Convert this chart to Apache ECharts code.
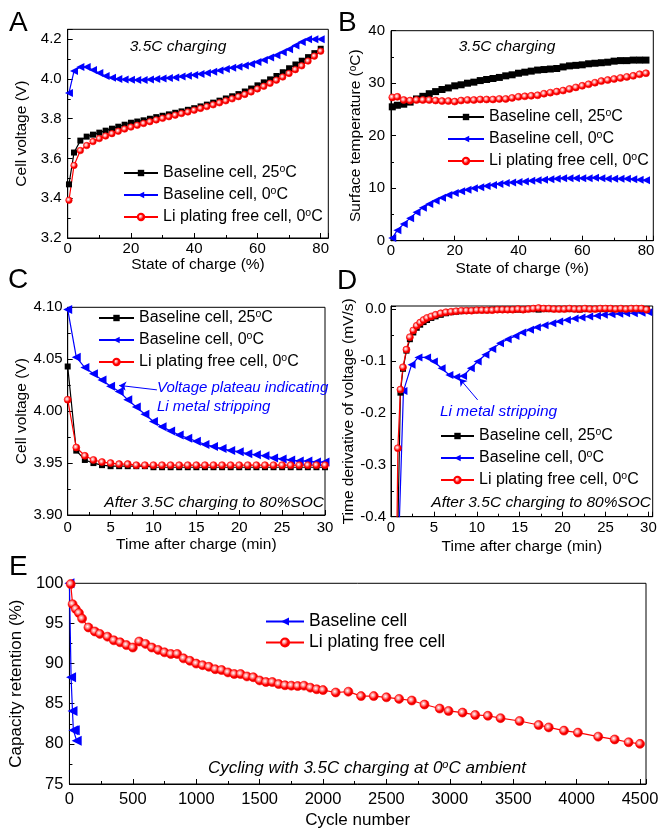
<!DOCTYPE html>
<html>
<head>
<meta charset="utf-8">
<script src="https://cdn.jsdelivr.net/npm/echarts@6/dist/echarts.min.js"></script>
<style>
  html, body { margin: 0; padding: 0; background: #fff; }
  #chart { width: 663px; height: 832px; }
</style>
</head>
<body>
<div id="chart"></div>
<script>
// A + B: charging at 3.5C, x = state of charge (%)
var soc = [0.4, 2, 4, 6, 8, 10, 12, 14, 16, 18, 20, 22, 24, 26, 28, 30, 32, 34, 36, 38, 40,
  42, 44, 46, 48, 50, 52, 54, 56, 58, 60, 62, 64, 66, 68, 70, 72, 74, 76, 78, 80];
var voltBase25 = [3.47, 3.63, 3.69, 3.71, 3.72, 3.73, 3.74, 3.75, 3.76, 3.77, 3.78, 3.786, 3.792, 3.80, 3.808,
  3.815, 3.822, 3.83, 3.837, 3.845, 3.853, 3.862, 3.871, 3.881, 3.891, 3.902, 3.913, 3.924, 3.937, 3.952,
  3.968, 3.983, 3.998, 4.015, 4.034, 4.054, 4.073, 4.092, 4.11, 4.13, 4.152];
var voltBase0 = [3.93, 4.04, 4.06, 4.06, 4.045, 4.03, 4.015, 4.006, 4.0, 3.998, 3.996, 3.995, 3.995, 3.997, 4.0,
  4.002, 4.005, 4.008, 4.012, 4.016, 4.02, 4.025, 4.03, 4.036, 4.043, 4.05, 4.056, 4.062, 4.068, 4.076,
  4.085, 4.095, 4.108, 4.12, 4.135, 4.15, 4.168, 4.186, 4.2, 4.2, 4.2];
var voltFree0 = [3.39, 3.565, 3.64, 3.665, 3.685, 3.70, 3.713, 3.725, 3.737, 3.748, 3.758, 3.767, 3.776, 3.785,
  3.794, 3.802, 3.81, 3.818, 3.826, 3.834, 3.843, 3.852, 3.861, 3.87, 3.88, 3.89, 3.90, 3.911, 3.922, 3.935,
  3.95, 3.963, 3.978, 3.994, 4.01, 4.028, 4.047, 4.066, 4.09, 4.115, 4.14];
var tempBase25 = [25.5, 25.8, 26.0, 26.4, 27.0, 27.5, 28.0, 28.4, 28.8, 29.1, 29.5, 29.7, 30.0, 30.2, 30.5,
  30.7, 30.9, 31.1, 31.4, 31.6, 31.9, 32.1, 32.3, 32.5, 32.6, 32.7, 32.8, 33.1, 33.3, 33.4,
  33.5, 33.7, 33.8, 33.9, 34.0, 34.2, 34.3, 34.3, 34.4, 34.4, 34.4];
var tempBase0 = [0.5, 2.0, 3.2, 4.3, 5.4, 6.3, 7.0, 7.6, 8.2, 8.7, 9.1, 9.4, 9.7, 10.0, 10.2,
  10.4, 10.6, 10.8, 11.0, 11.1, 11.2, 11.3, 11.4, 11.5, 11.6, 11.7, 11.8, 11.9, 11.9, 11.9,
  11.9, 11.9, 12.0, 11.9, 11.8, 11.8, 11.8, 11.8, 11.7, 11.6, 11.5];
var tempFree0 = [27.3, 27.4, 26.8, 26.7, 26.8, 26.8, 26.8, 26.7, 26.6, 26.6, 26.5, 26.7, 26.8, 26.8, 26.9,
  26.9, 26.9, 27.0, 27.0, 27.2, 27.4, 27.5, 27.6, 27.7, 28.0, 28.2, 28.4, 28.6, 28.9, 29.2,
  29.5, 29.8, 30.1, 30.4, 30.6, 30.8, 31.0, 31.2, 31.4, 31.7, 31.9];

// C: relaxation after charge, x = minutes
var timeC = [0, 1, 2, 3, 4, 5, 6, 7, 8, 9, 10, 11, 12, 13, 14, 15, 16, 17, 18, 19, 20,
  21, 22, 23, 24, 25, 26, 27, 28, 29, 30];
var relaxBase25 = [4.043, 3.962, 3.953, 3.950, 3.948, 3.947, 3.947, 3.947, 3.947, 3.947, 3.946, 3.946, 3.946,
  3.946, 3.946, 3.946, 3.946, 3.946, 3.946, 3.946, 3.946, 3.946, 3.946, 3.946, 3.946, 3.946, 3.946, 3.946,
  3.946, 3.946, 3.946];
var relaxBase0 = [4.098, 4.052, 4.042, 4.036, 4.030, 4.024, 4.019, 4.011, 4.004, 3.997, 3.990, 3.985, 3.981,
  3.977, 3.974, 3.971, 3.968, 3.966, 3.964, 3.962, 3.961, 3.959, 3.958, 3.957, 3.955, 3.954, 3.953, 3.952,
  3.952, 3.951, 3.951];
var relaxFree0 = [4.011, 3.965, 3.957, 3.953, 3.951, 3.950, 3.949, 3.949, 3.948, 3.948, 3.948, 3.948, 3.948,
  3.948, 3.948, 3.948, 3.948, 3.948, 3.948, 3.948, 3.948, 3.948, 3.948, 3.948, 3.948, 3.948, 3.948, 3.948,
  3.948, 3.948, 3.948];

// D: dV/dt after charge
var timeD = [0.6, 0.8, 1.1, 1.4, 1.8, 2.2, 2.6, 3.0, 3.4, 3.8, 4.2, 4.7, 5.2, 5.8, 6.4, 7.0, 7.6, 8.2, 8.8, 9.4,
  10.0, 10.6, 11.2, 11.8, 12.4, 13.0, 13.6, 14.2, 14.8, 15.4, 16.0, 16.6, 17.2, 17.8, 18.4, 19.0, 19.6,
  20.2, 20.8, 21.4, 22.0, 22.6, 23.2, 23.8, 24.4, 25.0, 25.6, 26.2, 26.8, 27.4, 28.0, 28.6, 29.2, 29.8];
var dvdtBase25 = [-0.9, -0.42, -0.161, -0.115, -0.080, -0.058, -0.045, -0.036, -0.030, -0.025, -0.021, -0.017,
  -0.014, -0.011, -0.008, -0.006, -0.005, -0.004, -0.003, -0.003,
  -0.002, -0.002, -0.002, -0.001, -0.001, -0.001, -0.001, -0.001, -0.001, -0.001, 0, 0, -0.001, 0, 0, 0, 0,
  0, 0, 0, -0.001, 0, 0, 0, 0, 0, 0, 0, 0, 0, 0, 0, 0, 0];
var dvdtFree0 = [-0.55, -0.268, -0.155, -0.112, -0.078, -0.054, -0.041, -0.032, -0.026, -0.021, -0.017, -0.014,
  -0.011, -0.008, -0.006, -0.005, -0.004, -0.003, -0.003, -0.003,
  -0.002, -0.002, -0.002, -0.002, -0.001, -0.001, -0.001, -0.001, 0, -0.001, 0, 0.001, 0.002, 0.001, 0.001,
  0, 0, 0, 0.001, 0, 0, 0.001, 0, 0, 0.001, 0.001, 0.001, 0, 0.001, 0, 0.001, 0.001, 0.001, -0.001];
var timeD0 = [0.8, 1.45, 2.4, 3.2, 4.2, 5.0, 5.9, 6.8, 7.6, 8.4, 9.3, 10.1, 11.0, 11.8, 12.7, 13.6, 14.5, 15.3,
  16.2, 17.0, 17.9, 18.8, 19.6, 20.5, 21.4, 22.2, 23.1, 24.0, 24.8, 25.7, 26.6, 27.4, 28.3, 29.2, 30.0];
var dvdtBase0 = [-0.5, -0.158, -0.107, -0.093, -0.093, -0.101, -0.114, -0.127, -0.131, -0.129, -0.114, -0.101,
  -0.088, -0.077, -0.066, -0.058, -0.052, -0.045, -0.040, -0.035, -0.031, -0.027, -0.024, -0.021, -0.018,
  -0.016, -0.014, -0.013, -0.011, -0.010, -0.009, -0.008, -0.008, -0.007, -0.006];

// E: cycling at 0C ambient
var cycleBase = [0, 13, 24, 31, 42, 57];
var retentionBase = [100, 88.3, 84.1, 81.7, 81.7, 80.4];
var cycleFree = [10, 25, 50, 75, 100, 150, 200, 240, 300, 350, 400, 450, 500, 550, 600, 650, 700, 750, 800, 850,
  900, 950, 1000, 1050, 1100, 1150, 1200, 1250, 1300, 1350, 1400, 1450, 1500, 1550, 1600, 1650, 1700, 1750,
  1800, 1850, 1900, 1950, 2000, 2100, 2200, 2300, 2400, 2500, 2600, 2700, 2800, 2920, 2990, 3100, 3200, 3300,
  3400, 3550, 3700, 3780, 3900, 4010, 4170, 4300, 4410, 4500];
var retentionFree = [99.9, 97.4, 96.8, 96.3, 95.6, 94.5, 94.0, 93.7, 93.35, 92.9, 92.65, 92.3, 92.0, 92.75, 92.45,
  92.0, 91.7, 91.4, 91.2, 91.2, 90.65, 90.35, 90.0, 89.8, 89.6, 89.3, 89.2, 88.9, 88.7, 88.7, 88.4, 88.3, 87.9,
  87.7, 87.7, 87.45, 87.3, 87.25, 87.2, 87.25, 87.0, 86.8, 86.7, 86.4, 86.5, 85.95, 85.95, 85.8, 85.6, 85.4,
  84.9, 84.4, 84.1, 83.9, 83.6, 83.5, 83.2, 82.85, 82.35, 82.05, 81.65, 81.4, 80.9, 80.55, 80.2, 80.0];

var NAME_B25 = 'Baseline cell, 25°C';
var NAME_B0 = 'Baseline cell, 0°C';
var NAME_F0 = 'Li plating free cell, 0°C';

var FONT = '"Liberation Sans", Arial, sans-serif';
var BLUE = '#0000ff';
var RED = '#ff0000';

var redBall = {
  type: 'radial', x: 0.4, y: 0.4, r: 0.65,
  colorStops: [
    { offset: 0, color: '#ffffff' },
    { offset: 0.3, color: '#ff9090' },
    { offset: 0.6, color: '#ff0000' },
    { offset: 1, color: '#cc0000' }
  ]
};

function supRich(size) {
  return { s: { fontSize: size, lineHeight: 7, verticalAlign: 'top', fontFamily: FONT, color: '#000' } };
}

function pairs(xs, ys) {
  return xs.map(function (x, i) { return [x, ys[i]]; });
}

function axis(grid, min, max, step, digits, name, gap, opts) {
  opts = opts || {};
  var fs = opts.fontSize || 15;
  return {
    type: 'value', gridIndex: grid, min: min, max: max, interval: step,
    name: name, nameLocation: 'middle', nameGap: gap,
    nameTextStyle: { fontSize: opts.nameSize || 15.5, color: '#000', fontFamily: FONT, rich: supRich(10) },
    axisLine: { show: true, onZero: false, lineStyle: { color: '#000', width: 1 } },
    axisTick: { show: true, inside: true, length: 5, lineStyle: { color: '#000', width: 1 } },
    minorTick: { show: true, splitNumber: 2, length: 3, lineStyle: { color: '#000', width: 1 } },
    splitLine: { show: false },
    minorSplitLine: { show: false },
    axisLabel: {
      fontSize: fs, color: '#000', fontFamily: FONT, margin: opts.margin || 4,
      showMaxLabel: opts.showMax !== false,
      formatter: function (v) {
        if (Math.abs(v) < 1e-9) v = 0;
        return v.toFixed(digits);
      }
    }
  };
}

function series(name, xs, ys, grid, kind, size) {
  var s = {
    type: 'line', name: name, data: pairs(xs, ys),
    xAxisIndex: grid, yAxisIndex: grid,
    symbolSize: size, clip: true,
    lineStyle: { width: 1.2 }
  };
  if (kind === 'square') {
    s.symbol = 'rect';
    s.itemStyle = { color: '#000' };
    s.lineStyle.color = '#000';
  } else if (kind === 'tri') {
    s.symbol = 'triangle';
    s.symbolRotate = 90;
    s.itemStyle = { color: BLUE };
    s.lineStyle.color = BLUE;
  } else {
    s.symbol = 'circle';
    s.itemStyle = { color: redBall, borderColor: RED, borderWidth: 0.6 };
    s.lineStyle.color = RED;
  }
  return s;
}

function legend(names, left, top, itemWidth, opts) {
  opts = opts || {};
  return {
    data: names, orient: 'vertical', left: left, top: top, padding: 0,
    itemWidth: itemWidth, itemHeight: opts.itemHeight || 8, itemGap: opts.itemGap || 4,
    selectedMode: false,
    formatter: function (name) { return name.replace('°', '{s|o}'); },
    textStyle: {
      fontSize: opts.fontSize || 16, lineHeight: opts.lineHeight || 18,
      color: '#000', fontFamily: FONT, rich: supRich(10.5)
    }
  };
}

function label(text, x, y, size, opts) {
  opts = opts || {};
  var font = (opts.italic ? 'italic ' : '') + size + 'px ' + FONT;
  return {
    type: 'text', x: x, y: y, silent: true,
    style: {
      text: text, font: font, fill: opts.color || '#000',
      textAlign: opts.align || 'left', textVerticalAlign: 'middle',
      align: opts.align || 'left', verticalAlign: 'middle',
      rich: { s: { font: (opts.italic ? 'italic ' : '') + '11px ' + FONT, fill: opts.color || '#000', lineHeight: 7, verticalAlign: 'top' } }
    }
  };
}

var chart = echarts.init(document.getElementById('chart'));

var arrowC = series(NAME_B0, timeC, relaxBase0, 2, 'tri', 9);
arrowC.markLine = {
  silent: true, symbol: ['none', 'arrow'], symbolSize: 7,
  lineStyle: { color: BLUE, width: 1, type: 'solid' }, label: { show: false },
  data: [[{ coord: [10.4, 4.0205] }, { coord: [6.0, 4.0248] }]]
};
var arrowD = series(NAME_B0, timeD0, dvdtBase0, 3, 'tri', 8);
arrowD.markLine = {
  silent: true, symbol: ['none', 'arrow'], symbolSize: 7,
  lineStyle: { color: BLUE, width: 1, type: 'solid' }, label: { show: false },
  data: [[{ coord: [10.1, -0.175] }, { coord: [8.0, -0.134] }]]
};

var option = {
  animation: false,
  backgroundColor: '#fff',
  grid: [
    { left: 67.7, top: 29.3, width: 260.6, height: 208.7 },
    { left: 391, top: 30.7, width: 262.3, height: 210 },
    { left: 67.7, top: 307.3, width: 257.3, height: 207.7 },
    { left: 391, top: 306, width: 261.7, height: 210.7 },
    { left: 67.7, top: 583.3, width: 578.3, height: 200.7 }
  ].map(function (g) {
    g.show = true; g.borderColor = '#000'; g.borderWidth = 1; g.containLabel = false;
    return g;
  }),
  xAxis: [
    axis(0, 0, 82.4, 20, 0, 'State of charge (%)', 19, { showMax: false, margin: 3 }),
    axis(1, 0, 82.3, 20, 0, 'State of charge (%)', 20, { showMax: false, margin: 3 }),
    axis(2, 0, 30, 5, 0, 'Time after charge (min)', 22, { margin: 5 }),
    axis(3, 0, 30.5, 5, 0, 'Time after charge (min)', 22, { showMax: false, margin: 4 }),
    axis(4, 0, 4547, 500, 0, 'Cycle number', 28, { showMax: false, margin: 7, fontSize: 16.5, nameSize: 17 })
  ],
  yAxis: [
    axis(0, 3.2, 4.25, 0.2, 1, 'Cell voltage (V)', 38, { showMax: false, margin: 6 }),
    axis(1, 0, 40, 10, 0, 'Surface temperature ({s|o}C)', 27, { margin: 6 }),
    axis(2, 3.9, 4.1, 0.05, 2, 'Cell voltage (V)', 38, { margin: 5 }),
    axis(3, -0.4, 0.006, 0.1, 1, 'Time derivative of voltage (mV/s)', 34, { showMax: false, margin: 5 }),
    axis(4, 75, 100, 5, 0, 'Capacity retention (%)', 40, { margin: 6, fontSize: 16.5, nameSize: 17 })
  ],
  legend: [
    legend([NAME_B25, NAME_B0, NAME_F0], 123, 164, 34),
    legend([NAME_B25, NAME_B0, NAME_F0], 447, 108, 36),
    legend([NAME_B25, NAME_B0, NAME_F0], 98, 309, 35),
    legend([NAME_B25, NAME_B0, NAME_F0], 440, 427, 33),
    legend(['Baseline cell', 'Li plating free cell'], 265, 612, 38,
      { itemHeight: 10, itemGap: 2, fontSize: 17.5, lineHeight: 19 })
  ],
  series: [
    series(NAME_B25, soc, voltBase25, 0, 'square', 6),
    series(NAME_B0, soc, voltBase0, 0, 'tri', 8),
    series(NAME_F0, soc, voltFree0, 0, 'circle', 6.5),

    series(NAME_B25, soc, tempBase25, 1, 'square', 7),
    series(NAME_B0, soc, tempBase0, 1, 'tri', 8),
    series(NAME_F0, soc, tempFree0, 1, 'circle', 7),

    series(NAME_B25, timeC, relaxBase25, 2, 'square', 6),
    arrowC,
    series(NAME_F0, timeC, relaxFree0, 2, 'circle', 7),

    series(NAME_B25, timeD, dvdtBase25, 3, 'square', 6),
    arrowD,
    series(NAME_F0, timeD, dvdtFree0, 3, 'circle', 7),

    series('Baseline cell', cycleBase, retentionBase, 4, 'tri', 10),
    series('Li plating free cell', cycleFree, retentionFree, 4, 'circle', 9)
  ],
  graphic: [
    label('A', 9, 23, 28),
    label('B', 338, 23, 28),
    label('C', 8, 280, 28),
    label('D', 337, 281, 28),
    label('E', 9, 567, 28),
    label('3.5C charging', 178, 47, 15.5, { italic: true, align: 'center' }),
    label('3.5C charging', 507, 47, 15.5, { italic: true, align: 'center' }),
    label('Voltage plateau indicating', 157, 388, 15, { italic: true, color: BLUE }),
    label('Li metal stripping', 157, 407, 15, { italic: true, color: BLUE }),
    label('After 3.5C charging to 80%SOC', 324, 503, 15.5, { italic: true, align: 'right' }),
    label('Li metal stripping', 440, 412, 15.5, { italic: true, color: BLUE }),
    label('After 3.5C charging to 80%SOC', 651, 503, 15.5, { italic: true, align: 'right' }),
    label('Cycling with 3.5C charging at 0{s|o}C ambient', 208, 768, 17, { italic: true })
  ]
};

chart.setOption(option);
</script>
</body>
</html>
